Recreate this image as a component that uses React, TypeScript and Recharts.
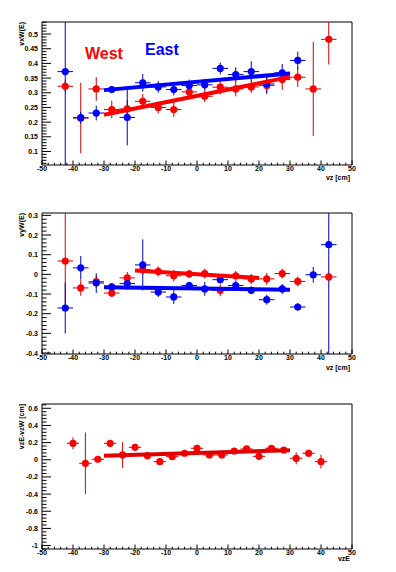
import React from 'react';
import { ComposedChart, Scatter, XAxis, YAxis, ErrorBar, ReferenceLine } from 'recharts';

// bin centres (cm)
const vzBins = [-42.5, -37.5, -32.5, -27.5, -22.5, -17.5, -12.5, -7.5, -2.5, 2.5, 7.5, 12.5, 17.5, 22.5, 27.5, 32.5, 37.5, 42.5];
const vzBinsDiff = [-40, -36, -32, -28, -24, -20, -16, -12, -8, -4, 0, 4, 8, 12, 16, 20, 24, 28, 32, 36, 40];

// vx vs vz
const westVxX = [-42.5, -37.5, -32.5, -27.5, -22.5, -17.5, -12.5, -7.5, -2.5, 2.5, 7.5, 12.5, 17.5, 22.5, 27.5, 32.5, 37.5, 42.5];
const westVx = [0.322, 0.214, 0.313, 0.243, 0.245, 0.271, 0.25, 0.243, 0.303, 0.288, 0.319, 0.313, 0.32, 0.325, 0.345, 0.353, 0.313, 0.482];
const westVxErr = [0.02, 0.12, 0.04, 0.03, 0.03, 0.025, 0.02, 0.025, 0.02, 0.02, 0.025, 0.025, 0.02, 0.03, 0.035, 0.033, 0.16, 0.086];
const eastVxX = [-42.5, -37.5, -32.5, -27.5, -22.5, -17.5, -12.5, -7.5, -2.5, 2.5, 7.5, 12.5, 17.5, 22.5, 27.5, 32.5];
const eastVx = [0.372, 0.215, 0.231, 0.311, 0.216, 0.334, 0.32, 0.311, 0.325, 0.327, 0.383, 0.362, 0.372, 0.33, 0.368, 0.41];
const eastVxErr = [0.5, 0.02, 0.025, 0.01, 0.095, 0.03, 0.02, 0.02, 0.02, 0.02, 0.02, 0.025, 0.035, 0.03, 0.03, 0.03];

// vy vs vz
const westVyX = [-42.5, -37.5, -32.5, -27.5, -22.5, -17.5, -12.5, -7.5, -2.5, 2.5, 7.5, 12.5, 17.5, 22.5, 27.5, 32.5, 42.5];
const westVy = [0.068, -0.069, -0.037, -0.095, -0.018, 0.024, 0.015, -0.007, 0.002, 0.004, -0.081, -0.007, -0.023, -0.023, 0.004, -0.036, -0.013];
const westVyErr = [0.25, 0.04, 0.03, 0.02, 0.03, 0.025, 0.025, 0.03, 0.02, 0.025, 0.03, 0.025, 0.025, 0.03, 0.025, 0.025, 0.02];
const eastVy = [-0.171, 0.033, -0.044, -0.064, -0.047, 0.048, -0.09, -0.115, -0.057, -0.074, -0.027, -0.057, -0.081, -0.129, -0.074, -0.166, -0.002, 0.151];
const eastVyErr = [0.13, 0.06, 0.05, 0.02, 0.03, 0.13, 0.025, 0.035, 0.02, 0.035, 0.02, 0.025, 0.02, 0.025, 0.025, 0.02, 0.04, 0.6];

// vzE - vzW vs vzE
const dVz = [0.192, -0.041, 0.006, 0.192, 0.056, 0.145, 0.048, -0.022, 0.036, 0.076, 0.134, 0.056, 0.056, 0.102, 0.126, 0.04, 0.134, 0.114, 0.017, 0.076, -0.022];
const dVzErr = [0.07, 0.36, 0.04, 0.04, 0.15, 0.04, 0.03, 0.04, 0.03, 0.03, 0.04, 0.03, 0.03, 0.03, 0.03, 0.04, 0.03, 0.03, 0.07, 0.04, 0.08];

// linear fits (end points)
const fitWestVx = { x: [-30, 30], y: [0.225, 0.354] };
const fitEastVx = { x: [-30, 30], y: [0.309, 0.366] };
const fitWestVy = { x: [-20, 20], y: [0.02, -0.018] };
const fitEastVy = { x: [-30, 30], y: [-0.066, -0.078] };
const fitDVz = { x: [-30, 30], y: [0.048, 0.11] };

// axis tick labels
const xMajors = [-50, -40, -30, -20, -10, 0, 10, 20, 30, 40, 50];
const vxMajors = ['0.1', '0.15', '0.2', '0.25', '0.3', '0.35', '0.4', '0.45', '0.5'];
const vyMajors = ['-0.4', '-0.3', '-0.2', '-0.1', '0', '0.1', '0.2', '0.3'];
const dvzMajors = ['-1', '-0.8', '-0.6', '-0.4', '-0.2', '0', '0.2', '0.4', '0.6'];

const vxDomain: [number, number] = [0.054, 0.541];
const vyDomain: [number, number] = [-0.405, 0.312];
const dvzDomain: [number, number] = [-1.04, 0.65];

const RED = '#ff0000';
const BLUE = '#0000ff';
const FONT = '"Liberation Sans", Arial, sans-serif';

// error bars are cut at the frame, like ROOT does
const pts = (xs: number[], ys: number[], es: number[], ex: number, dom: [number, number]) =>
  xs.map((x, i) => ({
    x,
    y: ys[i],
    ey: [Math.min(es[i], ys[i] - dom[0]), Math.min(es[i], dom[1] - ys[i])],
    ex,
  }));
const line = (f: { x: number[]; y: number[] }) => f.x.map((x, i) => ({ x, y: f.y[i] }));

const minorTicks = (lo: number, hi: number, step: number) => {
  const out: number[] = [];
  for (let i = Math.ceil(lo / step - 1e-9); i <= Math.floor(hi / step + 1e-9); i++) {
    out.push(Math.round(i * step * 1e6) / 1e6);
  }
  return out;
};

const XTick = (props: any) => {
  const { x, y, payload } = props;
  const v = payload.value;
  const major = xMajors.includes(v);
  return (
    <g>
      <line x1={x} x2={x} y1={y} y2={y - (major ? 4.5 : 2.3)} stroke="#000" />
      {major && (
        <text x={x} y={y + 6} textAnchor="middle" fontSize={7} fontWeight="bold" fontFamily={FONT} fill="#000">
          {v}
        </text>
      )}
    </g>
  );
};

const makeYTick = (majors: string[]) => (props: any) => {
  const { x, y, payload } = props;
  const v = payload.value;
  const label = majors.find((m) => Math.abs(parseFloat(m) - v) < 1e-6);
  return (
    <g>
      <line x1={x} x2={x + (label ? 9 : 4.5)} y1={y} y2={y} stroke="#000" />
      {label && (
        <text x={x - 4} y={y + 2.5} textAnchor="end" fontSize={7} fontWeight="bold" fontFamily={FONT} fill="#000">
          {label}
        </text>
      )}
    </g>
  );
};

const dot = (color: string) => (p: any) => <circle cx={p.cx} cy={p.cy} r={3.6} fill={color} />;
const none = () => <g />;

const errBars = (color: string) => [
  <ErrorBar key="ey" dataKey="ey" direction="y" width={0} stroke={color} strokeWidth={1} />,
  <ErrorBar key="ex" dataKey="ex" direction="x" width={0} stroke={color} strokeWidth={1} />,
];

interface PanelProps {
  top: number;
  height: number;
  margin: { top: number; bottom: number };
  domain: [number, number];
  step: number;
  majors: string[];
  children: React.ReactNode;
}

const Panel = ({ top, height, margin, domain, step, majors, children }: PanelProps) => (
  <div style={{ position: 'absolute', left: 0, top }}>
    <ComposedChart width={396} height={height} margin={{ top: margin.top, bottom: margin.bottom, left: 0, right: 44 }}>
      <XAxis
        type="number"
        dataKey="x"
        domain={[-50, 50]}
        allowDataOverflow
        ticks={minorTicks(-50, 50, 2)}
        interval={0}
        tick={<XTick />}
        tickLine={false}
        tickSize={0}
        tickMargin={0}
        height={20}
        axisLine={{ stroke: '#000' }}
      />
      <YAxis
        type="number"
        dataKey="y"
        domain={domain}
        allowDataOverflow
        ticks={minorTicks(domain[0], domain[1], step)}
        interval={0}
        tick={makeYTick(majors)}
        tickLine={false}
        tickSize={0}
        tickMargin={0}
        width={42}
        axisLine={{ stroke: '#000' }}
      />
      <ReferenceLine y={domain[1]} stroke="#000" />
      <ReferenceLine x={50} stroke="#000" />
      {children}
    </ComposedChart>
  </div>
);

const YTitle = ({ x, y, text }: { x: number; y: number; text: string }) => (
  <div
    style={{
      position: 'absolute',
      left: x,
      top: y,
      transform: 'rotate(-90deg)',
      transformOrigin: 'right top',
      whiteSpace: 'nowrap',
      fontFamily: FONT,
      fontWeight: 'bold',
      fontSize: 7,
      lineHeight: '7px',
      width: 80,
      textAlign: 'right',
      marginLeft: -80,
    }}
  >
    {text}
  </div>
);

const XTitle = ({ y, text }: { y: number; text: string }) => (
  <div
    style={{
      position: 'absolute',
      left: 250,
      top: y,
      width: 100,
      textAlign: 'right',
      fontFamily: FONT,
      fontWeight: 'bold',
      fontSize: 7,
      lineHeight: '7px',
    }}
  >
    {text}
  </div>
);

export default function App() {
  return (
    <div style={{ position: 'absolute', left: 0, top: 0, width: 396, height: 572, background: '#fff', overflow: 'hidden' }}>
      <Panel top={0} height={190} margin={{ top: 22, bottom: 5 }} domain={vxDomain} step={0.01} majors={vxMajors}>
        <Scatter data={pts(westVxX, westVx, westVxErr, 2.5, vxDomain)} shape={dot(RED)} isAnimationActive={false}>
          {errBars('#d00000')}
        </Scatter>
        <Scatter data={pts(eastVxX, eastVx, eastVxErr, 2.5, vxDomain)} shape={dot(BLUE)} isAnimationActive={false}>
          {errBars('#0000c0')}
        </Scatter>
        <Scatter data={line(fitWestVx)} shape={none} line={{ stroke: RED, strokeWidth: 4 }} isAnimationActive={false} />
        <Scatter data={line(fitEastVx)} shape={none} line={{ stroke: BLUE, strokeWidth: 4 }} isAnimationActive={false} />
      </Panel>
      <Panel top={190} height={190} margin={{ top: 23, bottom: 6 }} domain={vyDomain} step={0.02} majors={vyMajors}>
        <Scatter data={pts(westVyX, westVy, westVyErr, 2.5, vyDomain)} shape={dot(RED)} isAnimationActive={false}>
          {errBars('#d00000')}
        </Scatter>
        <Scatter data={pts(vzBins, eastVy, eastVyErr, 2.5, vyDomain)} shape={dot(BLUE)} isAnimationActive={false}>
          {errBars('#0000c0')}
        </Scatter>
        <Scatter data={line(fitWestVy)} shape={none} line={{ stroke: RED, strokeWidth: 4 }} isAnimationActive={false} />
        <Scatter data={line(fitEastVy)} shape={none} line={{ stroke: BLUE, strokeWidth: 4 }} isAnimationActive={false} />
      </Panel>
      <Panel top={380} height={192} margin={{ top: 24, bottom: 3 }} domain={dvzDomain} step={0.04} majors={dvzMajors}>
        <Scatter data={pts(vzBinsDiff, dVz, dVzErr, 2, dvzDomain)} shape={dot(RED)} isAnimationActive={false}>
          {errBars('#d00000')}
        </Scatter>
        <Scatter data={line(fitDVz)} shape={none} line={{ stroke: '#e00000', strokeWidth: 4 }} isAnimationActive={false} />
      </Panel>

      <YTitle x={18} y={22} text="vxW(E)" />
      <YTitle x={18} y={213} text="vyW(E)" />
      <YTitle x={18} y={404} text="vzE-vzW [cm]" />
      <XTitle y={174} text="vz [cm]" />
      <XTitle y={364} text="vz [cm]" />
      <XTitle y={555} text="vzE" />

      <div style={{ position: 'absolute', left: 85, top: 45, fontFamily: FONT, fontWeight: 'bold', fontSize: 16, color: RED }}>West</div>
      <div style={{ position: 'absolute', left: 145, top: 41, fontFamily: FONT, fontWeight: 'bold', fontSize: 16, color: BLUE }}>East</div>
    </div>
  );
}
